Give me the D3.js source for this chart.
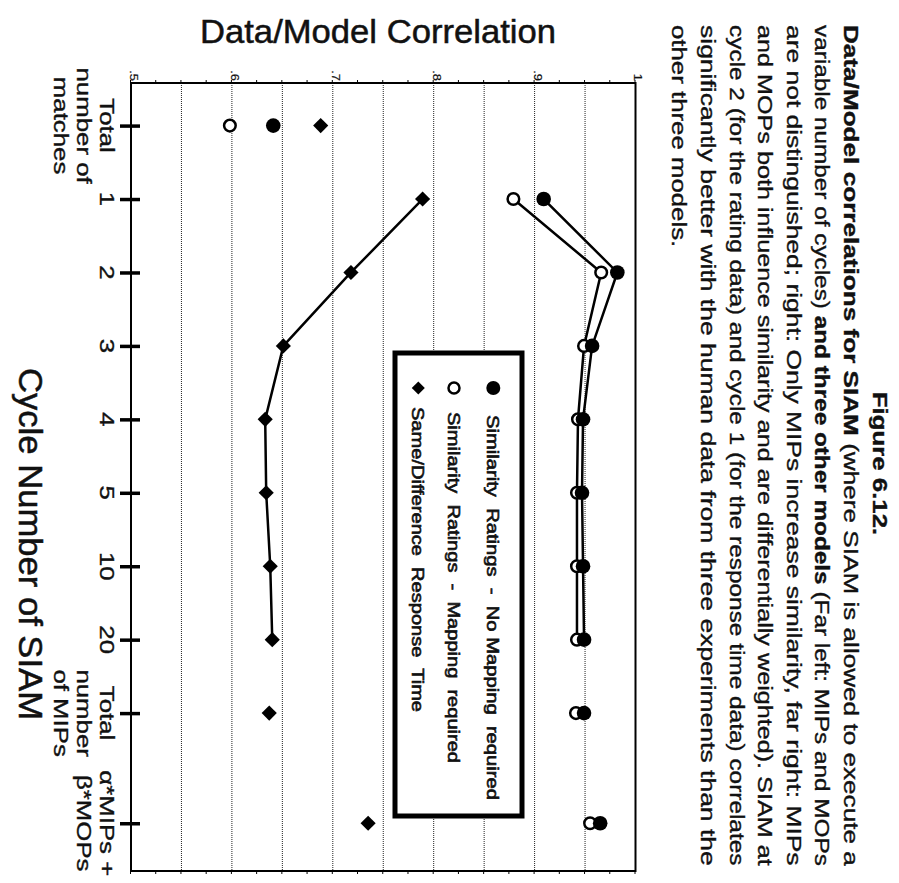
<!DOCTYPE html>
<html>
<head>
<meta charset="utf-8">
<script src="https://cdn.jsdelivr.net/npm/d3@7"></script>
<style>
  body { margin: 0; background: #fff; }
  text { font-family: "Liberation Sans", Arial, sans-serif; fill: #111; stroke: #111; stroke-width: 0.35px; }
</style>
</head>
<body>
<div id="chart"></div>
<script>
// ---- data ----
var categories = [["Total", "number of", "matches"], ["1"], ["2"], ["3"], ["4"], ["5"], ["10"], ["20"],
                  ["Total", "number", "of MIPs"], ["α*MIPs +", "β*MOPs"]];
var catPos = [0, 1, 2, 3, 4, 5, 6, 7, 8, 9.5];   // where each category sits on the cycle axis
var simNoMapping = [0.641, 0.909, 0.982, 0.957, 0.948, 0.947, 0.948, 0.949, 0.949, 0.965];
var simMapping   = [0.598, 0.879, 0.966, 0.949, 0.943, 0.942, 0.942, 0.942, 0.941, 0.955];
var sameDiffRT   = [0.688, 0.789, 0.718, 0.651, 0.633, 0.634, 0.638, 0.640, 0.637, 0.735];
var joined = [1, 2, 3, 4, 5, 6, 7];               // cycle points that are joined by lines

var valueTicks = [0.5, 0.6, 0.7, 0.8, 0.9, 1];
var valueTickLabels = [".5", ".6", ".7", ".8", ".9", "1"];
var gridValues = [0.55, 0.6, 0.65, 0.7, 0.75, 0.8, 0.85, 0.9, 0.95];

var legendLabels = ["Similarity  Ratings  -  No Mapping  required",
                    "Similarity  Ratings  -  Mapping  required",
                    "Same/Difference  Response  Time"];

var figureLabel = "Figure 6.12.";
var captionLines = [
  [["Data/Model correlations for SIAM", 1], [" (where SIAM is allowed to execute a", 0]],
  [["variable number of cycles) ", 0], ["and three other models", 1], [" (Far left: MIPs and MOPs", 0]],
  [["are not distinguished; right: Only MIPs increase similarity, far right: MIPs", 0]],
  [["and MOPs both influence similarity and are differentially weighted). SIAM at", 0]],
  [["cycle 2 (for the rating data) and cycle 1 (for the response time data) correlates", 0]],
  [["significantly better with the human data from three experiments than the", 0]],
  [["other three models.", 0]]
];

// ---- page: drawn upright, then turned a quarter turn like the scan ----
var svgWidth = 899, svgHeight = 883;
var stretch = 1.29;   // scan is wider along the page's horizontal

var svg = d3.select("#chart").append("svg")
  .attr("width", svgWidth)
  .attr("height", svgHeight);

var page = svg.append("g")
  .attr("transform", `translate(${svgWidth},0) rotate(90)`);

var frame = { left: 83, right: 871, top: 263.5, bottom: 768 };

var x = d3.scaleLinear().domain([-0.58, 10.15]).range([frame.left, frame.right]);
var y = d3.scaleLinear().domain([0.5, 1]).range([frame.bottom, frame.top]);

// grid
page.append("g").selectAll("line")
  .data(gridValues)
  .enter().append("line")
  .attr("x1", frame.left).attr("x2", frame.right)
  .attr("y1", d => y(d)).attr("y2", d => y(d))
  .attr("stroke", "#222")
  .attr("stroke-width", 1)
  .attr("stroke-dasharray", "1,1");

// minor ticks on both value sides
var minorTicks = d3.range(0.5, 1.0001, 0.025);
page.append("g")
  .attr("transform", `translate(${frame.left},0)`)
  .call(d3.axisLeft(y).tickValues(minorTicks).tickSize(3).tickFormat(""))
  .call(g => g.select(".domain").remove());
page.append("g")
  .attr("transform", `translate(${frame.right},0)`)
  .call(d3.axisRight(y).tickValues(minorTicks).tickSize(3).tickFormat(""))
  .call(g => g.select(".domain").remove());

// frame
page.append("rect")
  .attr("x", frame.left).attr("y", frame.top)
  .attr("width", frame.right - frame.left)
  .attr("height", frame.bottom - frame.top)
  .attr("fill", "none")
  .attr("stroke", "#000")
  .attr("stroke-width", 2);

// value labels
page.append("g").selectAll("text")
  .data(valueTicks)
  .enter().append("text")
  .attr("transform", d => `translate(${frame.left - 2},${y(d)}) scale(${stretch},1)`)
  .attr("dy", "0.1em")
  .attr("text-anchor", "end")
  .style("font-size", "10px")
  .style("stroke-width", "0.2px")
  .text((d, i) => valueTickLabels[i]);

// category axis ticks (cross the axis)
var catAxis = page.append("g")
  .attr("transform", `translate(0,${frame.bottom})`)
  .call(d3.axisBottom(x).tickValues(catPos).tickFormat(""));
catAxis.select(".domain").remove();
catAxis.selectAll(".tick line")
  .attr("y1", -9).attr("y2", 11)
  .attr("stroke", "#000")
  .attr("stroke-width", 3.5);

// category labels
var catLabels = page.append("g").selectAll("text")
  .data(categories)
  .enter().append("text")
  .attr("transform", (d, i) => `translate(${x(catPos[i])},${frame.bottom + 31}) scale(${stretch},1)`)
  .attr("text-anchor", "middle")
  .style("font-size", "20px");
catLabels.selectAll("tspan")
  .data(d => d)
  .enter().append("tspan")
  .attr("x", 0)
  .attr("dy", (d, i) => i ? 23 : 0)
  .text(d => d);

// axis titles
page.append("text")
  .attr("transform", `translate(43.3,521) rotate(-90)`)
  .attr("text-anchor", "middle")
  .attr("textLength", 356)
  .attr("lengthAdjust", "spacingAndGlyphs")
  .style("font-size", "33px")
  .style("stroke-width", "0.5px")
  .text("Data/Model Correlation");

page.append("text")
  .attr("x", 368).attr("y", 880)
  .attr("textLength", 352)
  .attr("lengthAdjust", "spacingAndGlyphs")
  .style("font-size", "33px")
  .style("stroke-width", "0.5px")
  .text("Cycle Number of SIAM");

// series
var line = d3.line()
  .x(i => x(catPos[i]));

function drawLine(values, width) {
  page.append("path")
    .datum(joined)
    .attr("d", line.y(i => y(values[i])))
    .attr("fill", "none")
    .attr("stroke", "#000")
    .attr("stroke-width", width);
}
drawLine(sameDiffRT, 2.5);
drawLine(simMapping, 2.5);
drawLine(simNoMapping, 2.5);

var diamond = d3.symbol().type(d3.symbolSquare).size(115);

page.append("g").selectAll("path")
  .data(sameDiffRT)
  .enter().append("path")
  .attr("d", diamond)
  .attr("transform", (d, i) => `translate(${x(catPos[i])},${y(d)}) rotate(45)`)
  .attr("fill", "#000");

page.append("g").selectAll("circle")
  .data(simMapping)
  .enter().append("circle")
  .attr("cx", (d, i) => x(catPos[i]))
  .attr("cy", d => y(d))
  .attr("r", 5.8)
  .attr("fill", "#fff")
  .attr("stroke", "#000")
  .attr("stroke-width", 2.5);

page.append("g").selectAll("circle")
  .data(simNoMapping)
  .enter().append("circle")
  .attr("cx", (d, i) => x(catPos[i]))
  .attr("cy", d => y(d))
  .attr("r", 7.3)
  .attr("fill", "#000");

// legend
var legend = page.append("g");
legend.append("rect")
  .attr("x", 353).attr("y", 377)
  .attr("width", 463).attr("height", 127)
  .attr("fill", "#fff")
  .attr("stroke", "#000")
  .attr("stroke-width", 5);

var legendY = [405.7, 445, 480.7];
var legendTextX = [415, 412, 407];
var legendTextLen = [385, 351, 305];

legend.append("circle").attr("cx", 388).attr("cy", legendY[0]).attr("r", 7).attr("fill", "#000");
legend.append("circle").attr("cx", 388).attr("cy", legendY[1]).attr("r", 5.5)
  .attr("fill", "#fff").attr("stroke", "#000").attr("stroke-width", 2.5);
legend.append("path").attr("d", d3.symbol().type(d3.symbolSquare).size(85))
  .attr("transform", `translate(388,${legendY[2]}) rotate(45)`);

legend.selectAll("text.leg")
  .data(legendLabels)
  .enter().append("text")
  .attr("class", "leg")
  .attr("x", (d, i) => legendTextX[i])
  .attr("y", (d, i) => legendY[i] + 6)
  .attr("textLength", (d, i) => legendTextLen[i])
  .attr("lengthAdjust", "spacingAndGlyphs")
  .style("font-size", "16px")
  .style("stroke-width", "0.6px")
  .style("white-space", "pre")
  .text(d => d);

// caption (justified)
var capLeft = 25, capRight = 866, capTop = 26.5, capStep = 28.6;
var caption = page.append("g");

caption.append("text")
  .attr("transform", `translate(${(capLeft + capRight) / 2 + 18},${capTop}) scale(${stretch},1)`)
  .attr("text-anchor", "middle")
  .style("font-size", "20px")
  .style("font-weight", "bold")
  .text(figureLabel);

captionLines.forEach(function(parts, i) {
  var t = caption.append("text")
    .attr("y", capTop + capStep * (i + 1))
    .style("font-size", "20px");
  parts.forEach(function(p) {
    t.append("tspan")
      .style("font-weight", p[1] ? "bold" : "normal")
      .style("white-space", "pre")
      .text(p[0]);
  });
  var natural = t.node().getComputedTextLength();
  var k = i === captionLines.length - 1 ? stretch : (capRight - capLeft) / natural;
  t.attr("transform", `translate(${capLeft},0) scale(${k},1)`);
});
</script>
</body>
</html>
